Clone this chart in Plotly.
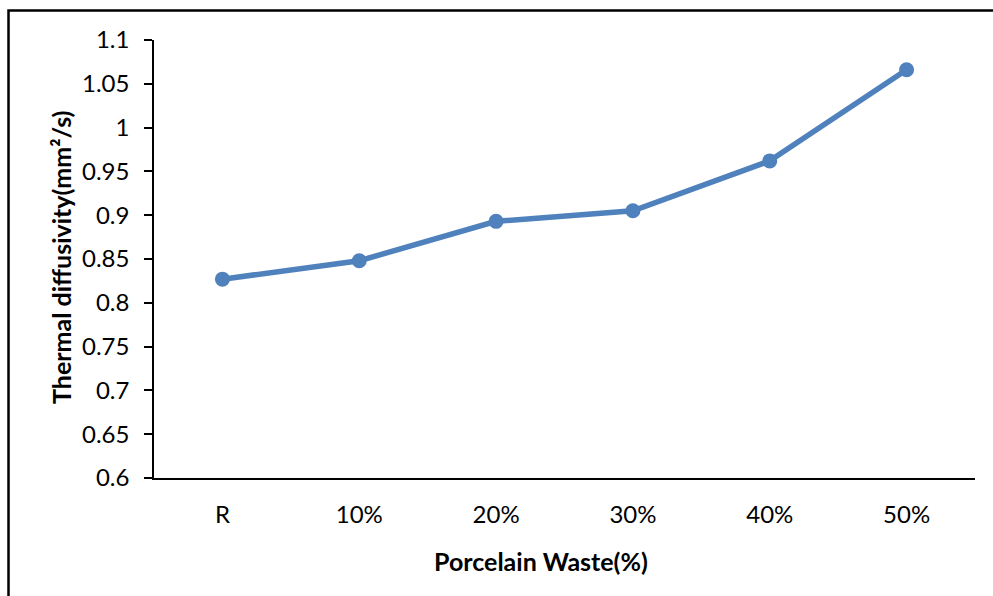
import plotly.graph_objects as go

# Thermal diffusivity versus porcelain waste replacement level
categories = ["R", "10%", "20%", "30%", "40%", "50%"]
diffusivity = [0.827, 0.848, 0.893, 0.905, 0.962, 1.066]
y_ticks = [0.6, 0.65, 0.7, 0.75, 0.8, 0.85, 0.9, 0.95, 1.0, 1.05, 1.1]
y_tick_text = ["0.6", "0.65", "0.7", "0.75", "0.8", "0.85", "0.9", "0.95", "1", "1.05", "1.1"]

FONT = "Lato"
BLUE = "#4F81BD"
TICK_SIZE = 24
TITLE_SIZE = 25

fig = go.Figure()
fig.add_trace(go.Scatter(
    x=list(range(len(categories))),
    y=diffusivity,
    mode="lines+markers",
    line=dict(color=BLUE, width=5.5),
    marker=dict(color=BLUE, size=15),
    showlegend=False,
    hoverinfo="skip",
))

fig.update_layout(
    width=993, height=596,
    margin=dict(l=154, r=18, t=40, b=118),
    paper_bgcolor="white",
    plot_bgcolor="white",
    font=dict(family=FONT, color="black", size=TICK_SIZE),
    xaxis=dict(
        range=[-0.5, 5.5],
        tickmode="array",
        tickvals=list(range(len(categories))),
        ticktext=categories,
        showgrid=False, zeroline=False,
        showline=True, linecolor="black", linewidth=2,
        ticks="", ticklabelstandoff=14,
        tickfont=dict(size=TICK_SIZE, family=FONT),
    ),
    yaxis=dict(
        range=[0.6, 1.1],
        tickmode="array",
        tickvals=y_ticks,
        ticktext=y_tick_text,
        showgrid=False, zeroline=False,
        showline=True, linecolor="black", linewidth=1.5,
        ticks="outside", ticklen=8, tickwidth=1.5, tickcolor="black",
        ticklabelstandoff=10,
        tickfont=dict(size=TICK_SIZE, family=FONT),
    ),
    annotations=[
        dict(text="<b>Thermal diffusivity(mm²/s)</b>", xref="paper", yref="paper",
             x=(61 - 154) / 821, y=(478 - 258) / 438, textangle=-90,
             showarrow=False, xanchor="center", yanchor="middle",
             font=dict(size=TITLE_SIZE, family=FONT)),
        dict(text="<b>Porcelain Waste(%)</b>", xref="paper", yref="paper",
             x=(541 - 154) / 821, y=(478 - 561) / 438,
             showarrow=False, xanchor="center", yanchor="middle",
             font=dict(size=TITLE_SIZE, family=FONT)),
    ],
    shapes=[
        dict(type="rect", xref="paper", yref="paper",
             x0=(8.5 - 154) / 821, x1=1.2,
             y0=-0.5, y1=(478 - 10.5) / 438,
             line=dict(color="black", width=2.5), fillcolor="rgba(0,0,0,0)",
             layer="below"),
    ],
)

fig.write_html("out.html")
